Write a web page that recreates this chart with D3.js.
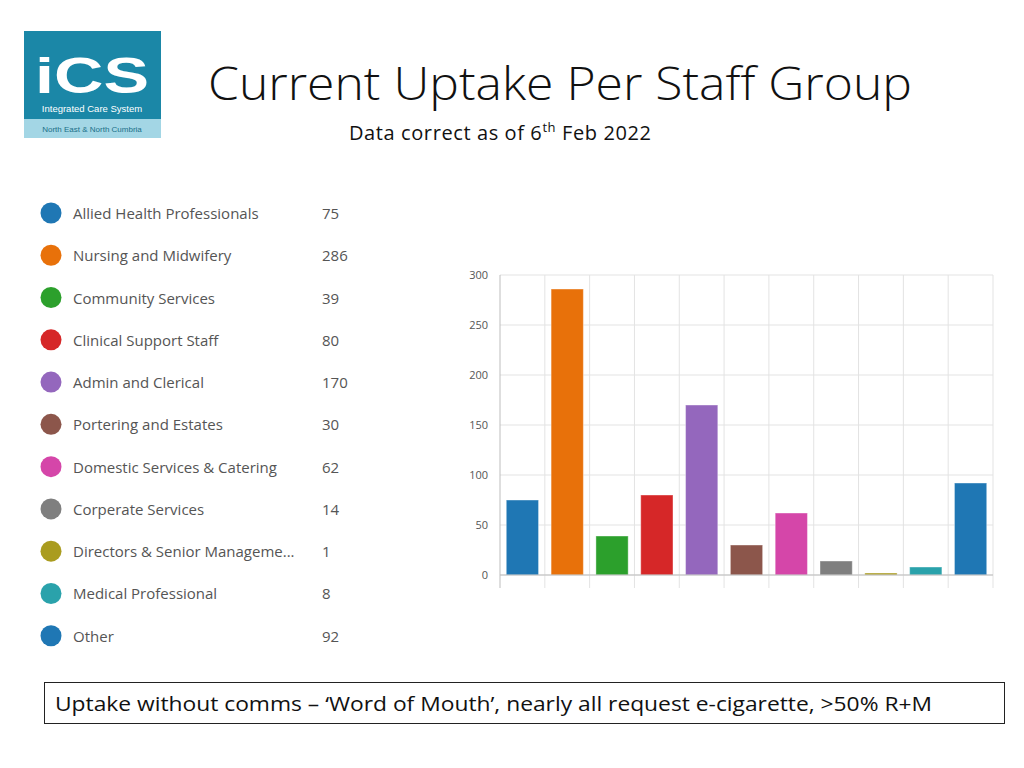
<!DOCTYPE html>
<html>
<head>
<meta charset="utf-8">
<script src="https://cdn.jsdelivr.net/npm/d3@7"></script>
<style>
  body { margin: 0; background: #fff; }
  svg { display: block; }
</style>
</head>
<body>
<div id="chart-area"></div>
<script>
const categories = [
  "Allied Health Professionals", "Nursing and Midwifery", "Community Services",
  "Clinical Support Staff", "Admin and Clerical", "Portering and Estates",
  "Domestic Services & Catering", "Corperate Services", "Directors & Senior Manageme...",
  "Medical Professional", "Other"
];
const uptake = [75, 286, 39, 80, 170, 30, 62, 14, 1, 8, 92];
const yTicks = [0, 50, 100, 150, 200, 250, 300];
const colours = [
  "#1f77b4", "#e8710a", "#2ca02c", "#d62728", "#9467bd", "#8c564b",
  "#d546a9", "#7f7f7f", "#aa9c1f", "#2aa2ab", "#1f77b4"
];

const svg = d3.select("#chart-area")
  .append("svg")
  .attr("width", 1024)
  .attr("height", 768);

// logo
const logo = svg.append("g").attr("transform", "translate(24, 31)");
logo.append("rect").attr("width", 137).attr("height", 107).attr("fill", "#1b87a7");
logo.append("rect").attr("y", 88).attr("width", 137).attr("height", 19).attr("fill", "#a3d6e5");
logo.append("text")
  .attr("x", 68).attr("y", 62)
  .attr("text-anchor", "middle")
  .attr("font-family", "Liberation Sans, Arial, sans-serif")
  .attr("font-weight", "bold")
  .attr("font-size", 50)
  .attr("fill", "#fff")
  .attr("textLength", 114)
  .attr("lengthAdjust", "spacingAndGlyphs")
  .text("iCS");
logo.append("text")
  .attr("x", 68).attr("y", 81)
  .attr("text-anchor", "middle")
  .attr("font-family", "Liberation Sans, Arial, sans-serif")
  .attr("font-size", 9.5)
  .attr("fill", "#fff")
  .text("Integrated Care System");
logo.append("text")
  .attr("x", 68).attr("y", 101)
  .attr("text-anchor", "middle")
  .attr("font-family", "Liberation Sans, Arial, sans-serif")
  .attr("font-size", 8)
  .attr("fill", "#1b6f88")
  .text("North East & North Cumbria");

// titles
svg.append("text")
  .attr("x", 208).attr("y", 100)
  .attr("font-family", "Open Sans, sans-serif")
  .attr("font-weight", 300)
  .attr("font-size", 46)
  .attr("fill", "#111")
  .attr("textLength", 704)
  .attr("lengthAdjust", "spacingAndGlyphs")
  .text("Current Uptake Per Staff Group");

const sub = svg.append("text")
  .attr("x", 349).attr("y", 140)
  .attr("font-family", "Open Sans, sans-serif")
  .attr("font-size", 20)
  .attr("letter-spacing", 0.6)
  .attr("fill", "#111");
sub.append("tspan").text("Data correct as of 6");
sub.append("tspan").attr("dy", -8).attr("font-size", 13).text("th");
sub.append("tspan").attr("dy", 8).text(" Feb 2022");

// legend
const legend = svg.append("g").attr("transform", "translate(0, 213)");
const rowY = d3.scaleBand().domain(categories).range([0, 465]).padding(0);
const rows = legend.selectAll("g.row")
  .data(categories)
  .enter()
  .append("g")
  .attr("class", "row")
  .attr("transform", d => `translate(0, ${rowY(d)})`);
rows.append("circle")
  .attr("cx", 51).attr("cy", 0).attr("r", 10.5)
  .attr("fill", (d, i) => colours[i]);
rows.append("text")
  .attr("x", 73).attr("y", 6)
  .attr("font-family", "Open Sans, sans-serif")
  .attr("font-size", 15)
  .attr("fill", "#555")
  .text(d => d);
rows.append("text")
  .attr("x", 322).attr("y", 6)
  .attr("font-family", "Open Sans, sans-serif")
  .attr("font-size", 15)
  .attr("fill", "#555")
  .text((d, i) => uptake[i]);

// bar chart
const margin = { left: 500, top: 275 };
const width = 493;
const height = 300;

const g = svg.append("g")
  .attr("transform", `translate(${margin.left}, ${margin.top})`);

const x = d3.scaleBand().domain(categories).range([0, width]).paddingInner(0.28).paddingOuter(0.14);
const y = d3.scaleLinear().domain([0, 300]).range([height, 0]);
const step = x.step();

// horizontal grid
g.selectAll("line.hgrid")
  .data(yTicks)
  .enter()
  .append("line")
  .attr("class", "hgrid")
  .attr("x1", 0).attr("x2", width)
  .attr("y1", d => y(d)).attr("y2", d => y(d))
  .attr("stroke", "#e3e3e3");

// vertical grid at band boundaries
const bounds = d3.range(categories.length + 1).map(i => i * step);
g.selectAll("line.vgrid")
  .data(bounds)
  .enter()
  .append("line")
  .attr("class", "vgrid")
  .attr("x1", d => d).attr("x2", d => d)
  .attr("y1", 0).attr("y2", height + 13)
  .attr("stroke", (d, i) => i === 0 ? "#bdbdbd" : "#e3e3e3");

// bars (tiny values still get a visible sliver)
g.selectAll("rect.bar")
  .data(uptake)
  .enter()
  .append("rect")
  .attr("class", "bar")
  .attr("x", (d, i) => x(categories[i]))
  .attr("y", d => Math.min(y(d), height - 2))
  .attr("width", x.bandwidth())
  .attr("height", d => Math.max(height - y(d), 2))
  .attr("fill", (d, i) => colours[i])
  .attr("stroke", "#fff")
  .attr("stroke-opacity", 0.4)
  .attr("stroke-width", 1);

// baseline
g.append("line")
  .attr("x1", 0).attr("x2", width)
  .attr("y1", y(0)).attr("y2", y(0))
  .attr("stroke", "#bdbdbd");

// y axis labels
const yAxis = g.append("g")
  .call(d3.axisLeft(y).tickValues(yTicks).tickSize(0).tickPadding(12));
yAxis.select(".domain").remove();
yAxis.selectAll("text")
  .attr("font-family", "Open Sans, sans-serif")
  .attr("font-size", 11)
  .attr("fill", "#555");

// footer note
svg.append("rect")
  .attr("x", 44.5).attr("y", 682.5)
  .attr("width", 960).attr("height", 41)
  .attr("fill", "none")
  .attr("stroke", "#222");
svg.append("text")
  .attr("x", 55).attr("y", 711)
  .attr("font-family", "Open Sans, sans-serif")
  .attr("font-size", 20)
  .attr("fill", "#111")
  .attr("textLength", 877)
  .attr("lengthAdjust", "spacingAndGlyphs")
  .text("Uptake without comms \u2013  \u2018Word of Mouth\u2019, nearly all request e-cigarette, >50% R+M");
</script>
</body>
</html>
